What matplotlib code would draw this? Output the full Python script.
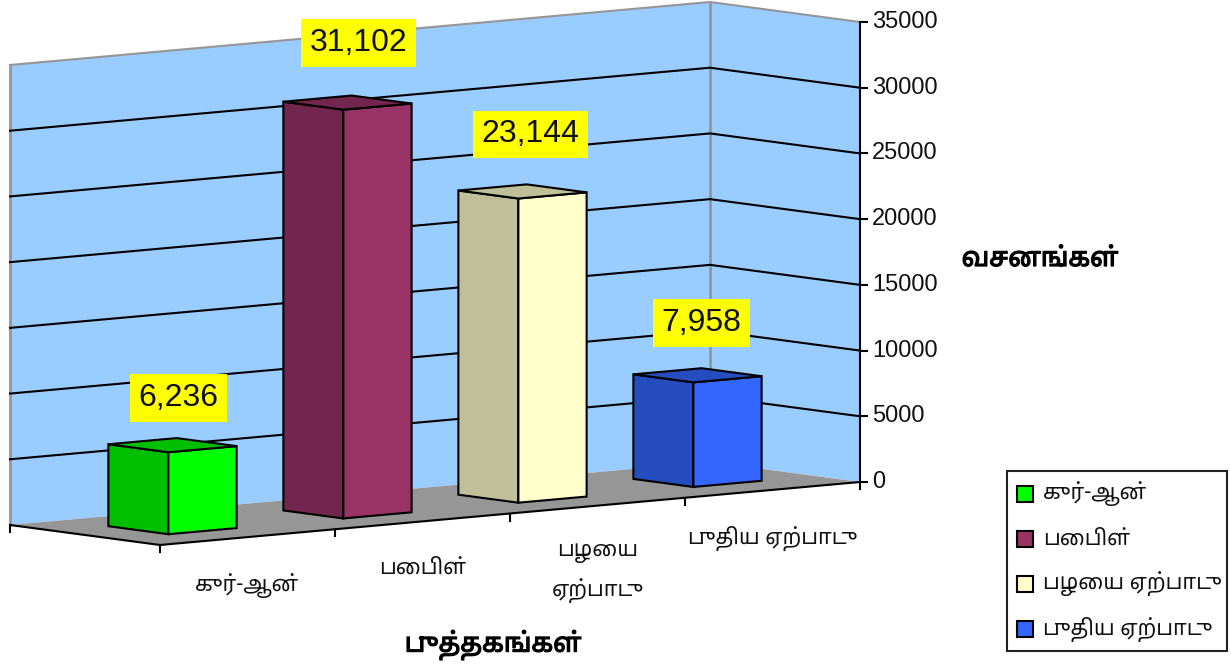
import matplotlib
matplotlib.use('Agg')
import matplotlib.pyplot as plt
import matplotlib.patheffects as pe
from matplotlib import font_manager
from matplotlib.patches import Polygon, Rectangle

categories = ['குர்-ஆன்', 'பைபிள்', 'பழைய\nஏற்பாடு', 'புதிய ஏற்பாடு']
legend_labels = ['குர்-ஆன்', 'பைபிள்', 'பழைய ஏற்பாடு', 'புதிய ஏற்பாடு']
verses = [6236, 31102, 23144, 7958]
value_ticks = [0, 5000, 10000, 15000, 20000, 25000, 30000, 35000]
x_title = 'புத்தகங்கள்'
y_title = 'வசனங்கள்'

# use a font with tamil glyphs if the machine has one
installed = {f.name for f in font_manager.fontManager.ttflist}
tamil = [n for n in ['Noto Sans Tamil', 'Lohit Tamil', 'Latha', 'FreeSans', 'FreeSerif'] if n in installed]
plt.rcParams['font.family'] = tamil + ['Liberation Sans', 'DejaVu Sans']
DIGITS = ['Liberation Sans', 'DejaVu Sans']

# (face, shaded face)
colors = [('#00FF00', '#00BF00'), ('#993366', '#73264D'), ('#FFFFCC', '#BFBF99'), ('#3366FF', '#264DBF')]
WALL = '#99CCFF'
FLOOR = '#969696'
LABEL_OFFSET = [(6, -47), (11, -60), (8, -57), (4, -52)]


def proj(u, v, val=0):
    """category position u, depth v (0 front, 1 back), value -> pixel"""
    x = 160 + 175 * u - 150 * v
    y = 545 - 15.75 * u - 20 * v - val * 460 / 35000
    return x, y


fig = plt.figure(figsize=(12.31, 6.67), dpi=100)
ax = fig.add_axes([0, 0, 1, 1])
ax.set_xlim(0, 1231)
ax.set_ylim(667, 0)
ax.axis('off')

top = value_ticks[-1]
# walls and floor
ax.add_patch(Polygon([proj(0, 1), proj(4, 1), proj(4, 1, top), proj(0, 1, top)], fc=WALL, ec='none', zorder=1))
ax.add_patch(Polygon([proj(4, 1), proj(4, 0), proj(4, 0, top), proj(4, 1, top)], fc=WALL, ec='none', zorder=1))

for t in value_ticks[1:]:
    c = FLOOR if t == top else 'black'
    pts = [proj(0, 1, t), proj(4, 1, t), proj(4, 0, t)]
    ax.plot([p[0] for p in pts], [p[1] for p in pts], color=c, lw=1.5, zorder=1.2)
for p, q in [(proj(0, 1), proj(0, 1, top)), (proj(4, 1), proj(4, 1, top))]:
    ax.plot([p[0], q[0]], [p[1], q[1]], color=FLOOR, lw=2, zorder=1.1)
ax.add_patch(Polygon([proj(0, 0), proj(4, 0), proj(4, 1), proj(0, 1)], fc=FLOOR, ec='none', zorder=1.3))

# value axis
x0, y0 = proj(4, 0)
x1, y1 = proj(4, 0, top)
ax.plot([x0, x1], [y0, y1], color='black', lw=1.5, zorder=1.4)
for t in value_ticks:
    x, y = proj(4, 0, t)
    ax.plot([x, x + 7], [y, y], color='black', lw=1.5)
    ax.text(x + 12, y, str(t), fontsize=17, va='center', ha='left', color='#111111', family=DIGITS)

# category axis
pts = [proj(0, 1), proj(0, 0), proj(4, 0)]
ax.plot([p[0] for p in pts], [p[1] for p in pts], color='black', lw=1.5, zorder=1.4)
for u in range(5):
    x, y = proj(u, 0)
    ax.plot([x, x], [y, y + 7], color='black', lw=1.5)
x, y = proj(0, 1)
ax.plot([x, x], [y, y + 7], color='black', lw=1.5)

for i, label in enumerate(categories):
    x, y = proj(i + 0.5, 0)
    ax.text(x, y + 36, label, fontsize=15.5, ha='center', va='top', linespacing=1.85, color='#111111')

# bars
a, b = 0.195, 0.2
for i, val in enumerate(verses):
    uc, vc = i + 0.5, 0.5
    face, dark = colors[i]
    fl = (uc - a, vc - b)
    fr = (uc + a, vc - b)
    bl = (uc - a, vc + b)
    br = (uc + a, vc + b)
    kw = dict(ec='black', lw=1.5, joinstyle='miter', zorder=3)
    ax.add_patch(Polygon([proj(*bl), proj(*fl), proj(*fl, val), proj(*bl, val)], fc=dark, **kw))
    ax.add_patch(Polygon([proj(*fl), proj(*fr), proj(*fr, val), proj(*fl, val)], fc=face, **kw))
    ax.add_patch(Polygon([proj(*fl, val), proj(*fr, val), proj(*br, val), proj(*bl, val)], fc=dark, **kw))

for i, val in enumerate(verses):
    x, y = proj(i + 0.5, 0.5, val)
    dx, dy = LABEL_OFFSET[i]
    ax.text(x + dx, y + dy, f'{val:,}', fontsize=23, ha='center', va='center', color='#111111', zorder=5,
            family=DIGITS, bbox=dict(fc='#FFFF00', ec='none', boxstyle='square,pad=0.28'))

bold = [pe.withStroke(linewidth=0.9, foreground='black')]
ax.text(1040, 259, y_title, fontsize=19, ha='center', va='center', path_effects=bold)
ax.text(493, 645, x_title, fontsize=19, ha='center', va='center', path_effects=bold)

# legend
ax.add_patch(Rectangle((1007, 471), 220, 180, fc='white', ec='#222222', lw=1.5))
for i, label in enumerate(legend_labels):
    yc = 494 + 45 * i
    ax.add_patch(Rectangle((1017, yc - 8), 16, 16, fc=colors[i][0], ec='black', lw=1.5))
    ax.text(1043, yc, label, fontsize=15.5, ha='left', va='center', color='#111111')

fig.savefig('out.png', dpi=100)
